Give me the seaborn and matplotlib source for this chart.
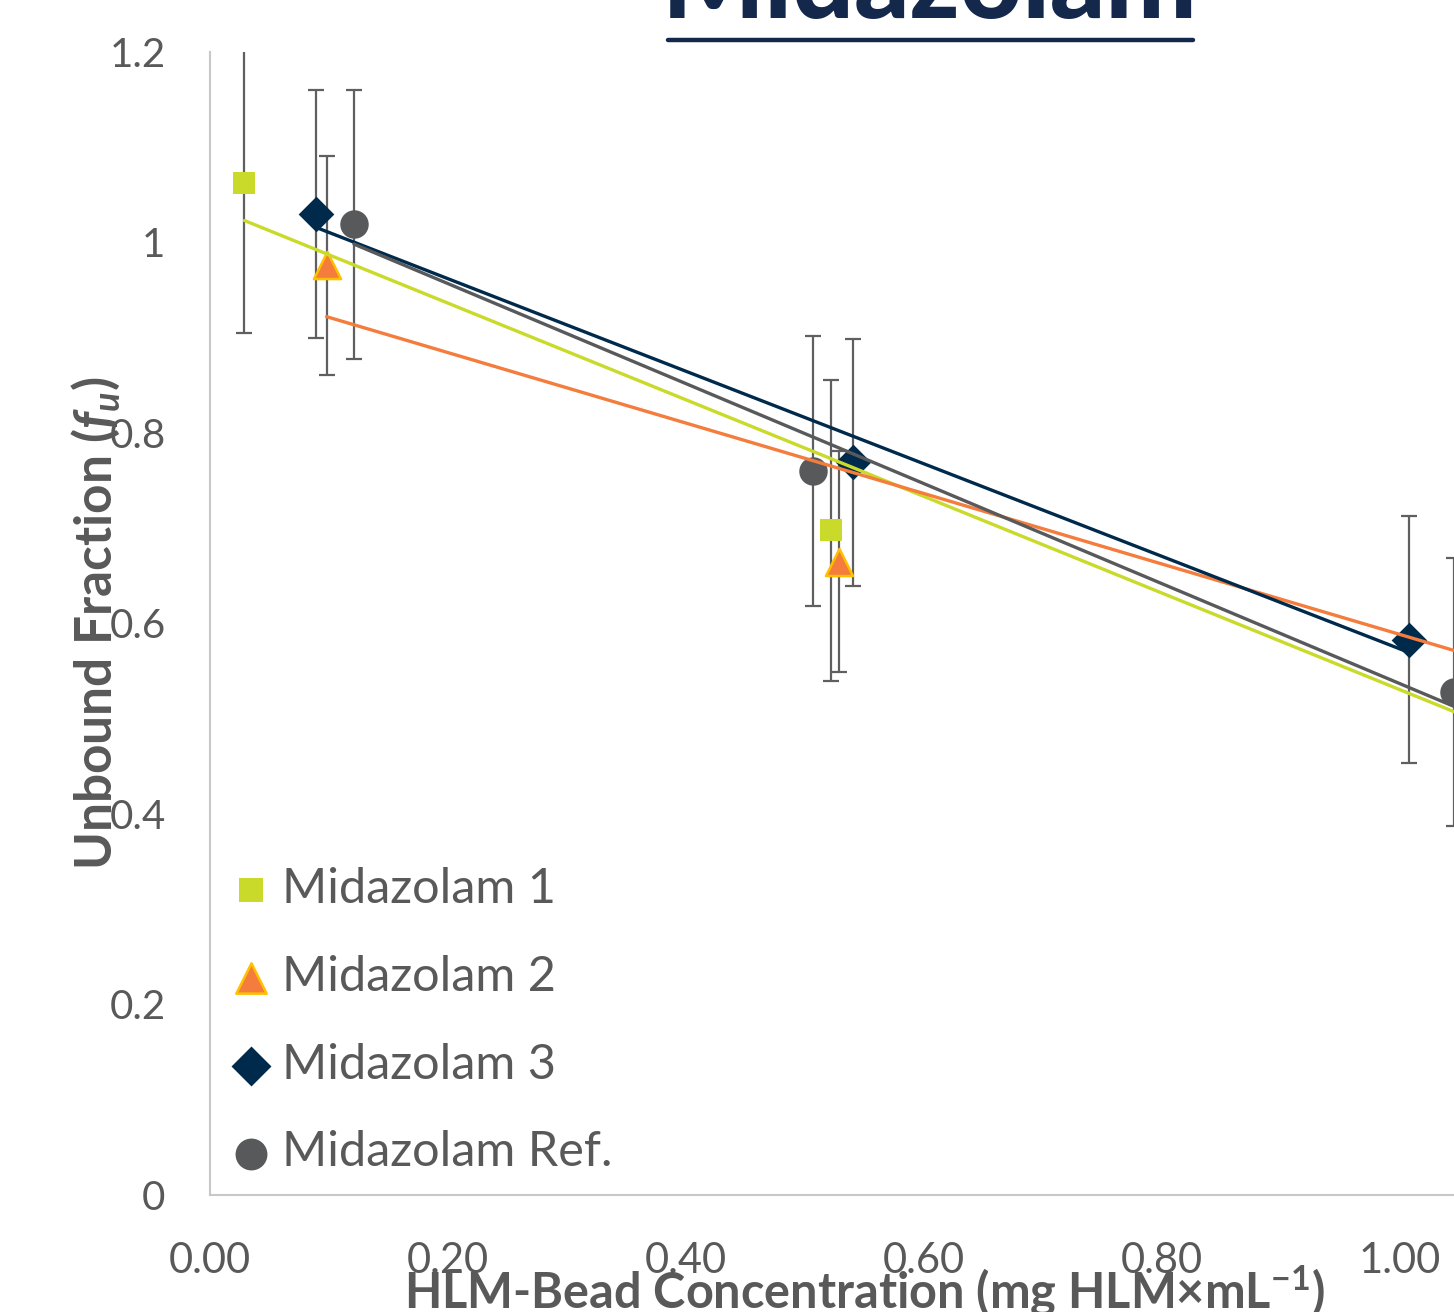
import matplotlib
matplotlib.use("Agg")
import numpy as np
import seaborn as sns
from matplotlib import pyplot as plt
from matplotlib.lines import Line2D

# series data (x in mg HLM/mL, y = fu, err = +/- bar)
series_names = ["Midazolam 1", "Midazolam 2", "Midazolam 3", "Midazolam Ref."]
x_m1 = [0.029, 0.522, 1.056]
y_m1 = [1.062, 0.698, 0.538]
e_m1 = [0.157, 0.158, 0.158]
x_m2 = [0.098, 0.529, 1.060]
y_m2 = [0.976, 0.665, 0.610]
e_m2 = [0.115, 0.116, 0.116]
x_m3 = [0.089, 0.540, 1.008]
y_m3 = [1.030, 0.769, 0.583]
e_m3 = [0.130, 0.130, 0.130]
x_ref = [0.121, 0.507, 1.045]
y_ref = [1.019, 0.760, 0.528]
e_ref = [0.141, 0.142, 0.141]

x_ticks = [0.0, 0.2, 0.4, 0.6, 0.8, 1.0]
x_tick_labels = ["0.00", "0.20", "0.40", "0.60", "0.80", "1.00"]
y_ticks = [0, 0.2, 0.4, 0.6, 0.8, 1.0, 1.2]
y_tick_labels = ["0", "0.2", "0.4", "0.6", "0.8", "1", "1.2"]

colors = ["#C9DA2A", "#F47C3C", "#002A4B", "#58595B"]
markers = ["s", "^", "D", "o"]
sizes = [230, 380, 330, 420]
edges = ["#C9DA2A", "#FFC000", "#002A4B", "#58595B"]
GREY = "#595959"

sns.set_theme(style="white")
plt.rcParams["font.family"] = ["Lato", "DejaVu Sans"]
plt.rcParams["mathtext.fontset"] = "custom"
plt.rcParams["mathtext.rm"] = "Lato:bold"
plt.rcParams["mathtext.it"] = "Lato:bold:italic"

fig = plt.figure(figsize=(14.54, 13.12), dpi=100)
ax = fig.add_axes([0.1444, 0.0892, 0.8556, 0.8712])

data = [(x_m1, y_m1, e_m1), (x_m2, y_m2, e_m2), (x_m3, y_m3, e_m3), (x_ref, y_ref, e_ref)]
for i, (xs, ys, es) in enumerate(data):
    ax.errorbar(xs, ys, yerr=es, fmt="none", ecolor="#5F5F5F", elinewidth=1.6,
                capsize=6, capthick=1.6, zorder=2)
    sns.scatterplot(x=xs, y=ys, ax=ax, marker=markers[i], s=sizes[i], color=colors[i],
                    edgecolor=edges[i], linewidth=1.8 if i == 1 else 0,
                    label=series_names[i], zorder=3)
    sns.regplot(x=np.array(xs), y=np.array(ys), ax=ax, scatter=False, ci=None,
                truncate=True, color=colors[i], line_kws={"lw": 2.4, "zorder": 4})

ax.set_xlim(0, 1.0454)
ax.set_ylim(0, 1.2)
ax.set_xticks(x_ticks)
ax.set_xticklabels(x_tick_labels)
ax.set_yticks(y_ticks)
ax.set_yticklabels(y_tick_labels)
ax.tick_params(axis="x", length=0, pad=34, labelsize=30, labelcolor=GREY)
ax.tick_params(axis="y", length=0, pad=32, labelsize=29, labelcolor=GREY)

for s in ["top", "right"]:
    ax.spines[s].set_visible(False)
for s in ["left", "bottom"]:
    ax.spines[s].set_color("#C8C8C8")
    ax.spines[s].set_linewidth(1.5)

ax.set_xlabel(r"HLM-Bead Concentration (mg HLM×mL$^{-1}$)", fontsize=35,
              fontweight="bold", color=GREY)
ax.xaxis.set_label_coords(0.5265, -0.060)
ax.set_ylabel(r"Unbound Fraction ($f_u$)", fontsize=37, fontweight="bold", color=GREY)
ax.yaxis.set_label_coords(-0.071, 0.5)

leg = ax.legend(loc="lower left", bbox_to_anchor=(0.021, 0.018), frameon=False,
                fontsize=35, labelcolor=GREY, handlelength=0.6, handletextpad=0.35,
                labelspacing=0.9, borderaxespad=0, borderpad=0, markerscale=1.12)

# title, mostly cropped off the top like the original
fig.text(0.6395, 1 - 18 / 1312, "Midazolam", ha="center", va="baseline",
         fontsize=78, fontweight="black", color="#14284B")
fig.add_artist(Line2D([668 / 1454, 1193 / 1454], [1 - 40 / 1312, 1 - 40 / 1312],
                      color="#14284B", lw=3.2, transform=fig.transFigure))

fig.savefig("out.png", dpi=100)
